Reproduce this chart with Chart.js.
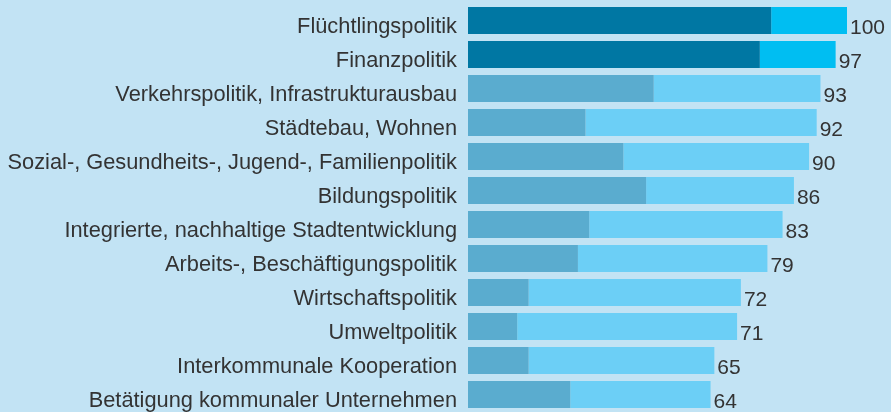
<!DOCTYPE html>
<html>
<head>
<meta charset="utf-8">
<script src="https://cdn.jsdelivr.net/npm/chart.js@4/dist/chart.umd.min.js"></script>
<style>
  html, body { margin: 0; padding: 0; background: #c2e3f4; }
  #wrap { width: 891px; height: 412px; position: relative; }
</style>
</head>
<body>
<div id="wrap"><canvas id="chart"></canvas></div>
<script>
// Themen und Werte
var themen = [
  "Flüchtlingspolitik",
  "Finanzpolitik",
  "Verkehrspolitik, Infrastrukturausbau",
  "Städtebau, Wohnen",
  "Sozial-, Gesundheits-, Jugend-, Familienpolitik",
  "Bildungspolitik",
  "Integrierte, nachhaltige Stadtentwicklung",
  "Arbeits-, Beschäftigungspolitik",
  "Wirtschaftspolitik",
  "Umweltpolitik",
  "Interkommunale Kooperation",
  "Betätigung kommunaler Unternehmen"
];
var gesamt = [100, 97, 93, 92, 90, 86, 83, 79, 72, 71, 65, 64];
var dunkel = [80, 77, 49, 31, 41, 47, 32, 29, 16, 13, 16, 27];
var hell = gesamt.map(function (g, i) { return g - dunkel[i]; });

var farbeDunkel = themen.map(function (t, i) { return i < 2 ? '#0077a3' : '#5aaccf'; });
var farbeHell = themen.map(function (t, i) { return i < 2 ? '#00bef2' : '#6ccff6'; });

var schrift = "'Liberation Sans', Arial, sans-serif";

// Summen rechts neben die Balken schreiben
var summenPlugin = {
  id: 'summen',
  afterDatasetsDraw: function (chart) {
    var ctx = chart.ctx;
    var meta = chart.getDatasetMeta(1);
    ctx.save();
    ctx.font = '21px ' + schrift;
    ctx.fillStyle = '#333333';
    ctx.textAlign = 'left';
    ctx.textBaseline = 'alphabetic';
    meta.data.forEach(function (bar, i) {
      ctx.fillText(gesamt[i], bar.x + 3, bar.y + 13.5);
    });
    ctx.restore();
  }
};

var ctx = document.getElementById('chart');
var chart = new Chart(ctx, {
  type: 'bar',
  data: {
    labels: themen,
    datasets: [{
      data: dunkel,
      backgroundColor: farbeDunkel,
      borderWidth: 0
    }, {
      data: hell,
      backgroundColor: farbeHell,
      borderWidth: 0
    }]
  },
  options: {
    indexAxis: 'y',
    responsive: true,
    maintainAspectRatio: false,
    animation: false,
    layout: { padding: { top: 3.5, bottom: 0.5, right: 44, left: 0 } },
    datasets: {
      bar: { barPercentage: 0.794, categoryPercentage: 1 }
    },
    scales: {
      x: {
        stacked: true,
        min: 0,
        max: 100,
        display: false
      },
      y: {
        stacked: true,
        grid: { display: false, drawTicks: false },
        border: { display: false },
        afterFit: function (scale) {
          scale.width = 468;
          scale.paddingTop = 0;
          scale.paddingBottom = 0;
        },
        ticks: {
          padding: 11,
          labelOffset: 6,
          color: '#333333',
          font: { family: schrift, size: 21.8 }
        }
      }
    },
    plugins: {
      legend: { display: false },
      tooltip: { enabled: false }
    }
  },
  plugins: [summenPlugin]
});
</script>
</body>
</html>
